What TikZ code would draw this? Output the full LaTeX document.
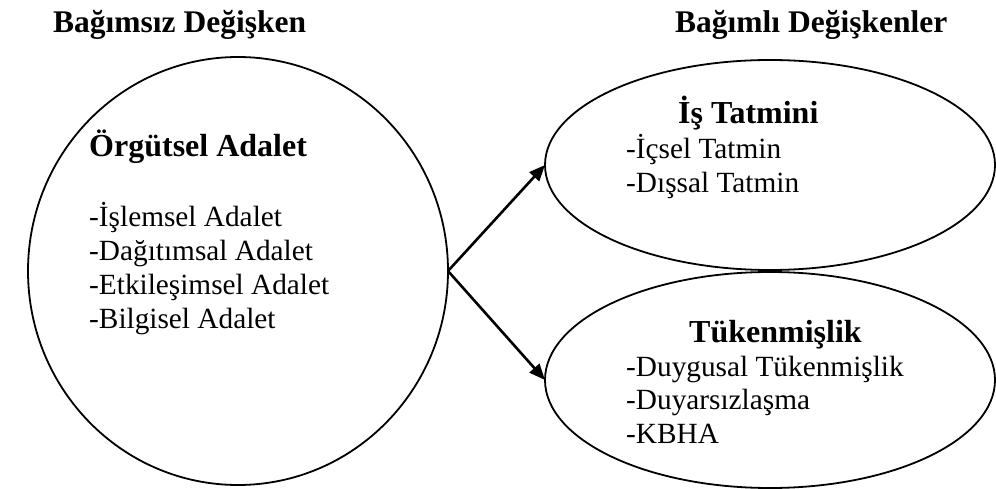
\documentclass[tikz,border=0pt]{standalone}
\usepackage{fontspec}
\setmainfont{Liberation Serif}
\usetikzlibrary{shapes.geometric,arrows.meta}
\tikzset{
  oval/.style={ellipse, draw=black, line width=1.8pt, inner sep=0pt, outer sep=0pt},
  heading/.style={anchor=base west, inner sep=0pt, font=\fontsize{31.5}{36}\selectfont\bfseries},
  boxtitle/.style={anchor=base west, inner sep=0pt, font=\fontsize{32}{36}\selectfont\bfseries},
  item/.style={anchor=base west, inner sep=0pt, font=\fontsize{29.3}{33}\selectfont},
  link/.style={line width=2.6pt, -{Triangle[length=16pt,width=13pt]}}
}
\begin{document}
\begin{tikzpicture}[x=1pt,y=-1pt]
\useasboundingbox (0,0) rectangle (996,489);
% headings
\node[heading] (h1) at (53,33) {Bağımsız Değişken};
\node[heading] (h2) at (675,33) {Bağımlı Değişkenler};
% shapes
\node[oval, minimum width=420pt, minimum height=428pt] (L) at (238,271) {};
\node[oval, minimum width=450pt, minimum height=210pt] (T) at (770,165) {};
\node[oval, minimum width=450pt, minimum height=216pt] (B) at (770,380) {};
% left texts
\node[boxtitle] (lt) at (89,157) {Örgütsel Adalet};
\node[item] (l1) at (89,227) {-İşlemsel Adalet};
\node[item] (l2) at (89,260) {-Dağıtımsal Adalet};
\node[item] (l3) at (89,294) {-Etkileşimsel Adalet};
\node[item] (l4) at (89,328) {-Bilgisel Adalet};
% top right texts
\node[boxtitle] (tt) at (678,124) {İş Tatmini};
\node[item] (t1) at (626,159) {-İçsel Tatmin};
\node[item] (t2) at (626,193) {-Dışsal Tatmin};
% bottom right texts
\node[boxtitle] (bt) at (689,342) {Tükenmişlik};
\node[item] (b1) at (626,376) {-Duygusal Tükenmişlik};
\node[item] (b2) at (626,409) {-Duyarsızlaşma};
\node[item] (b3) at (626,443) {-KBHA};
% connectors
\draw[link] (L.east) -- (T.west);
\draw[link] (L.east) -- (B.west);
\end{tikzpicture}
\end{document}
